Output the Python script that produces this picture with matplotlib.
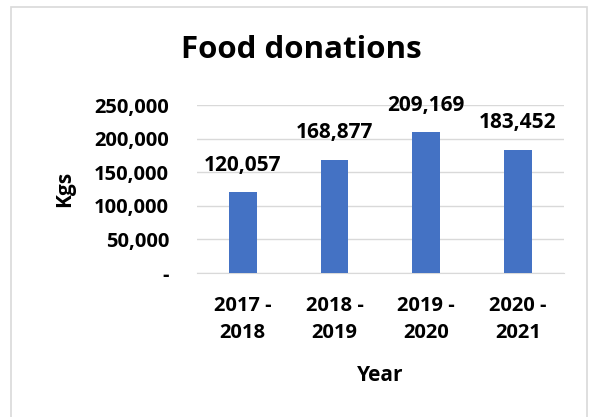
import matplotlib
matplotlib.use("Agg")
import matplotlib.pyplot as plt
from matplotlib.patches import Rectangle
from matplotlib.ticker import FuncFormatter

plt.rcParams["font.family"] = ["Open Sans", "DejaVu Sans"]

years = ["2017 -\n2018", "2018 -\n2019", "2019 -\n2020", "2020 -\n2021"]
kgs = [120057, 168877, 209169, 183452]
y_ticks = [0, 50000, 100000, 150000, 200000, 250000]

fig = plt.figure(figsize=(5.96, 4.17), dpi=100)
ax = fig.add_axes([0.3305, 0.3453, 0.6155, 0.4029])

bars = ax.bar(range(len(years)), kgs, width=0.3, color="#4472C4", zorder=3)
for b, v in zip(bars, kgs):
    ax.annotate(f"{v:,}", (b.get_x() + b.get_width() / 2, v),
                xytext=(0, 12), textcoords="offset points",
                ha="center", va="bottom", fontsize=15, fontweight="bold")

ax.set_xlim(-0.5, len(years) - 0.5)
ax.set_ylim(0, 250000)
ax.set_yticks(y_ticks)
ax.yaxis.set_major_formatter(FuncFormatter(lambda v, p: "-" if v == 0 else f"{v:,.0f}"))
ax.set_xticks(range(len(years)))
ax.set_xticklabels(years, linespacing=1.45)
ax.grid(axis="y", color="#d9d9d9", linewidth=1, zorder=0)
for s in ["top", "right", "left"]:
    ax.spines[s].set_visible(False)
ax.spines["bottom"].set_color("#d9d9d9")
ax.tick_params(axis="y", length=0, pad=20, labelsize=14.5)
ax.tick_params(axis="x", length=0, pad=16.5, labelsize=14.5)
for t in ax.get_xticklabels() + ax.get_yticklabels():
    t.set_fontweight("bold")

ax.set_xlabel("Year", fontsize=15, fontweight="bold", labelpad=16)
ax.set_ylabel("Kgs", fontsize=15, fontweight="bold", labelpad=14)

fig.text(301 / 596, 1 - 50 / 417, "Food donations", ha="center", va="center",
         fontsize=22.5, fontweight="bold")

# chart border
fig.patches.append(Rectangle((11 / 596, -0.05), 576 / 596, 1.05 - 7 / 417,
                             transform=fig.transFigure, fill=False,
                             edgecolor="#d9d9d9", linewidth=1.2))

fig.savefig("out.png", dpi=100)
